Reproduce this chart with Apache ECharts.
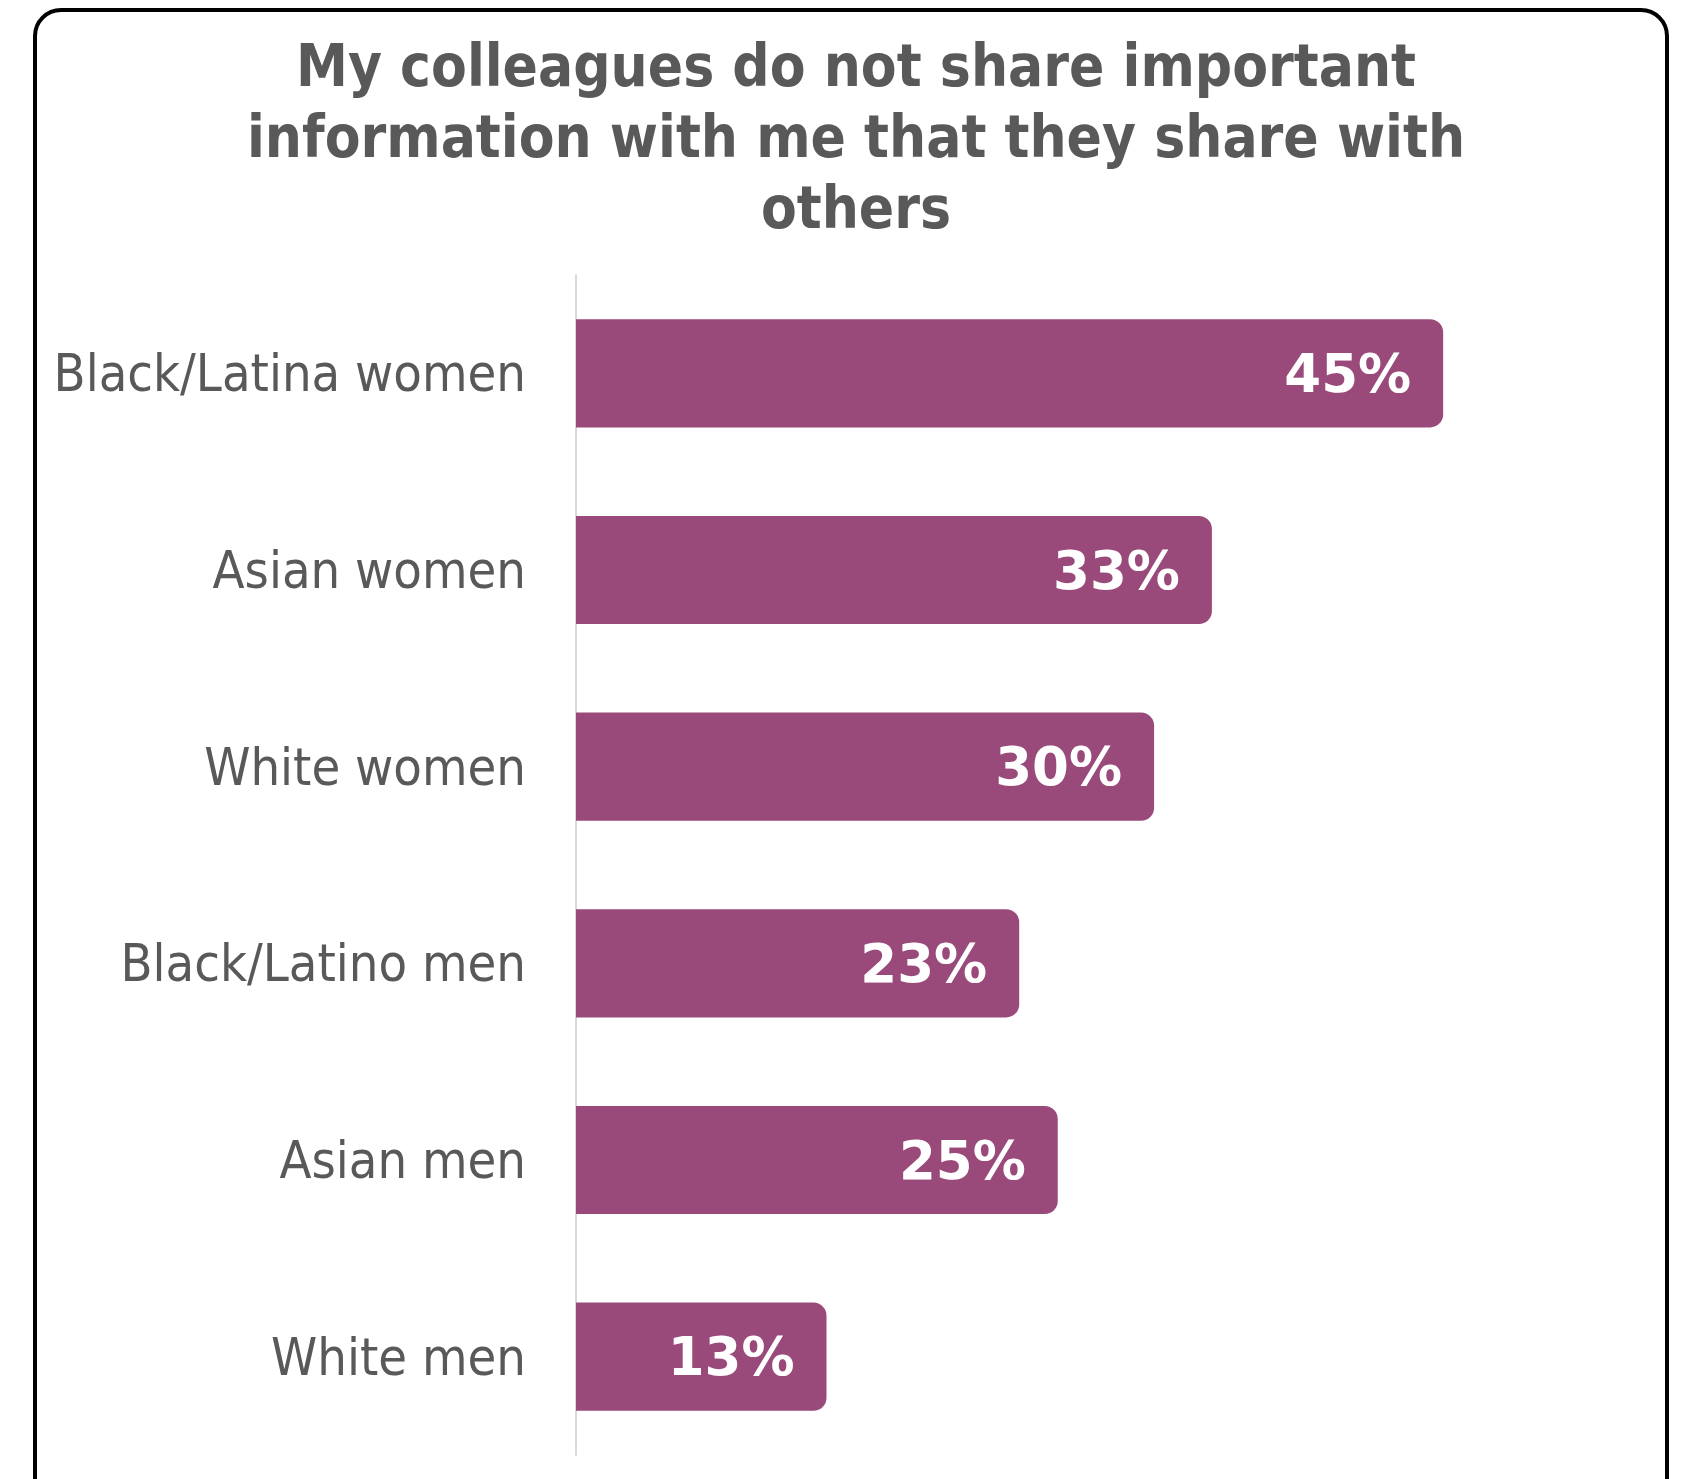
<!DOCTYPE html>
<html>
<head>
<meta charset="utf-8">
<title>My colleagues do not share important information with me</title>
<script src="https://cdn.jsdelivr.net/npm/echarts@6/dist/echarts.min.js"></script>
<style>
  html, body { margin: 0; padding: 0; background: #ffffff; }
  #chart { width: 1691px; height: 1479px; }
</style>
</head>
<body>
<div id="chart"></div>
<script>
// Survey groups, listed top to bottom
const groups = [
  'Black/Latina women',
  'Asian women',
  'White women',
  'Black/Latino men',
  'Asian men',
  'White men'
];

// Share agreeing with the statement (%)
const shares = [45, 33, 30, 23, 25, 13];

const titleText = 'My colleagues do not share important\ninformation with me that they share with\nothers';

const textGray = '#595959';
const barColor = '#9a4a7a';
const labelFont = '"DejaVu Sans Condensed", "DejaVu Sans", sans-serif';

const chart = echarts.init(document.getElementById('chart'), null, { renderer: 'canvas' });

chart.setOption({
  backgroundColor: '#ffffff',
  animation: false,
  title: {
    text: titleText,
    left: 851,
    top: 30,
    textAlign: 'center',
    textStyle: {
      fontFamily: labelFont,
      fontWeight: 'bold',
      fontSize: 58,
      lineHeight: 71,
      color: textGray
    }
  },
  graphic: [{
    type: 'rect',
    silent: true,
    z: 100,
    shape: { x: 35, y: 10, width: 1632, height: 1500, r: 26 },
    style: { fill: 'none', stroke: '#000000', lineWidth: 4 }
  }],
  grid: {
    left: 576,
    right: 151.5,
    top: 275,
    bottom: 24,
    containLabel: false
  },
  xAxis: {
    type: 'value',
    min: 0,
    max: 50,
    show: false
  },
  yAxis: {
    type: 'category',
    data: groups,
    inverse: true,
    axisLine: { show: true, lineStyle: { color: '#d9d9d9', width: 2 } },
    axisTick: { show: false },
    splitLine: { show: false },
    axisLabel: {
      margin: 50,
      formatter: '{g|{value}}',
      rich: {
        g: {
          padding: [9, 0, 0, 0],
          fontFamily: labelFont,
          fontSize: 52,
          color: textGray
        }
      }
    }
  },
  series: [{
    type: 'bar',
    data: shares,
    barCategoryGap: '45%',
    itemStyle: { color: barColor, borderRadius: [0, 13, 13, 0] },
    label: {
      show: true,
      position: 'insideRight',
      distance: 32,
      offset: [0, 5],
      formatter: '{c}%',
      fontFamily: '"DejaVu Sans", sans-serif',
      fontWeight: 'bold',
      fontSize: 53,
      color: '#ffffff'
    }
  }]
});
</script>
</body>
</html>
